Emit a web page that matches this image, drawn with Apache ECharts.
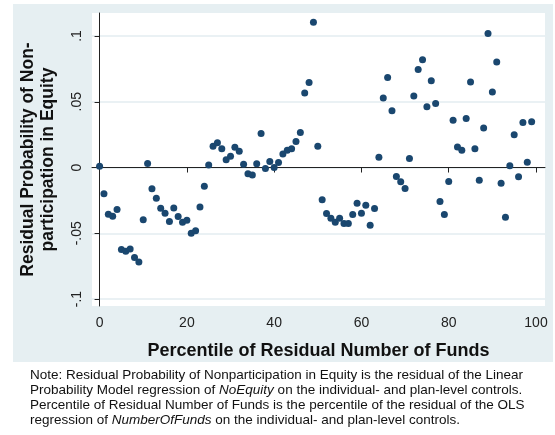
<!DOCTYPE html>
<html>
<head>
<meta charset="utf-8">
<script src="https://cdn.jsdelivr.net/npm/echarts@6/dist/echarts.min.js"></script>
<style>
  html, body { margin: 0; padding: 0; background: #fff; }
  #chart { width: 555px; height: 435px; }
</style>
</head>
<body>
<div id="chart"></div>
<script>
  // percentile of residual number of funds
  const percentiles = [
    0, 1, 2, 3, 4, 5, 6, 7, 8, 9, 10, 11, 12, 13, 14, 15, 16, 17, 18, 19,
    20, 21, 22, 23, 24, 25, 26, 27, 28, 29, 30, 31, 32, 33, 34, 35, 36, 37, 38, 39,
    40, 41, 42, 43, 44, 45, 46, 47, 48, 49, 50, 51, 52, 53, 54, 55, 56, 57, 58, 59,
    60, 61, 62, 63, 64, 65, 66, 67, 68, 69, 70, 71, 72, 73, 74, 75, 76, 77, 78, 79,
    80, 81, 82, 83, 84, 85, 86, 87, 88, 89, 90, 91, 92, 93, 94, 95, 96, 97, 98, 99
  ]
  // residual probability of nonparticipation in equity
  const residuals = [
    0.001, -0.020, -0.0355, -0.037, -0.032, -0.0624, -0.0637, -0.062, -0.0685, -0.0718,
    -0.0398, 0.003, -0.0162, -0.0233, -0.031, -0.0348, -0.041, -0.0307, -0.0373, -0.0416,
    -0.040, -0.050, -0.048, -0.030, -0.0142, 0.002, 0.0162, 0.0188, 0.0142, 0.006,
    0.0086, 0.0155, 0.0124, 0.0025, -0.0048, -0.0056, 0.0028, 0.0259, -0.0008, 0.0046,
    0.0, 0.0038, 0.0102, 0.0132, 0.0142, 0.0198, 0.0266, 0.0566, 0.0647, 0.1104,
    0.0162, -0.0246, -0.035, -0.0386, -0.0416, -0.0386, -0.0426, -0.0426, -0.0358, -0.0272,
    -0.0348, -0.0287, -0.0439, -0.0312, 0.0079, 0.0528, 0.0685, 0.0431, -0.0069, -0.0109,
    -0.016, 0.0069, 0.0543, 0.0746, 0.082, 0.0462, 0.066, 0.0487, -0.0259, -0.0358,
    -0.0107, 0.036, 0.0157, 0.0132, 0.0373, 0.065, 0.0142, -0.0096, 0.030, 0.102,
    0.0574, 0.0802, -0.0119, -0.0378, 0.0013, 0.0249, -0.0071, 0.0343, 0.0041, 0.0348
  ]
  const xTicks = [0, 20, 40, 60, 80, 100]
  const yTicks = [-0.1, -0.05, 0, 0.05, 0.1]
  const yTickLabels = ['-.1', '-.05', '0', '.05', '.1']

  const noteLines = [
    'Note: Residual Probability of Nonparticipation in Equity is the residual of the Linear',
    'Probability Model regression of {i|NoEquity} on the individual- and plan-level controls.',
    'Percentile of Residual Number of Funds is the percentile of the residual of the OLS',
    'regression of {i|NumberOfFunds} on the individual- and plan-level controls.'
  ]

  const font = '"Liberation Sans", Arial, sans-serif'
  let chart = echarts.init(document.getElementById('chart'))

  chart.setOption({
    animation: false,
    backgroundColor: '#fff',
    textStyle: {fontFamily: font},
    grid: {
      left: 92, right: 10, top: 13, bottom: 129,
      show: true, backgroundColor: '#fff', borderWidth: 0,
      outerBoundsMode: 'none'
    },
    graphic: [
      // graph region
      {
        type: 'rect', z: -10, silent: true,
        shape: {x: 13, y: 4, width: 540, height: 358},
        style: {fill: '#e6eff2'}
      },
      {
        type: 'text', left: 30, top: 368, silent: true,
        style: {
          text: noteLines.join('\n'),
          font: '13.5px ' + font, fill: '#111',
          lineHeight: 15,
          rich: {
            i: {fontStyle: 'italic', fontSize: 13.5, fontFamily: font, lineHeight: 15}
          }
        }
      }
    ],
    xAxis: {
      type: 'value',
      min: -1.74, max: 102.06,
      name: 'Percentile of Residual Number of Funds',
      nameLocation: 'middle',
      nameGap: 36,
      nameTextStyle: {fontSize: 18, fontWeight: 'bold', color: '#111'},
      axisLine: {show: true, lineStyle: {color: '#222', width: 1}},
      axisTick: {show: true, length: 5, customValues: xTicks, lineStyle: {color: '#222'}},
      axisLabel: {customValues: xTicks, fontSize: 14, color: '#222', margin: 10},
      splitLine: {show: false}
    },
    yAxis: {
      type: 'value',
      min: -0.1053, max: 0.1175,
      name: 'Residual Probability of Non-\nparticipation in Equity',
      nameLocation: 'middle',
      nameRotate: 90,
      nameGap: 34,
      nameTextStyle: {fontSize: 17.5, fontWeight: 'bold', color: '#111', lineHeight: 20},
      axisLine: {show: true, lineStyle: {color: '#222', width: 1}},
      axisTick: {show: true, length: 5, customValues: yTicks, lineStyle: {color: '#222'}},
      axisLabel: {
        customValues: yTicks, rotate: 90, fontSize: 14, color: '#222', margin: 8,
        formatter: function (v) {
          let k = yTicks.findIndex(t => Math.abs(t - v) < 1e-9)
          return k >= 0 ? yTickLabels[k] : ''
        }
      },
      splitLine: {show: true, lineStyle: {color: '#e3edf1', width: 1.5}}
    },
    series: [
      {
        type: 'scatter',
        symbol: 'circle',
        symbolSize: 7,
        itemStyle: {color: '#1a476f', opacity: 1},
        data: percentiles.map((p, k) => [p, residuals[k]])
      }
    ]
  })
</script>
</body>
</html>
